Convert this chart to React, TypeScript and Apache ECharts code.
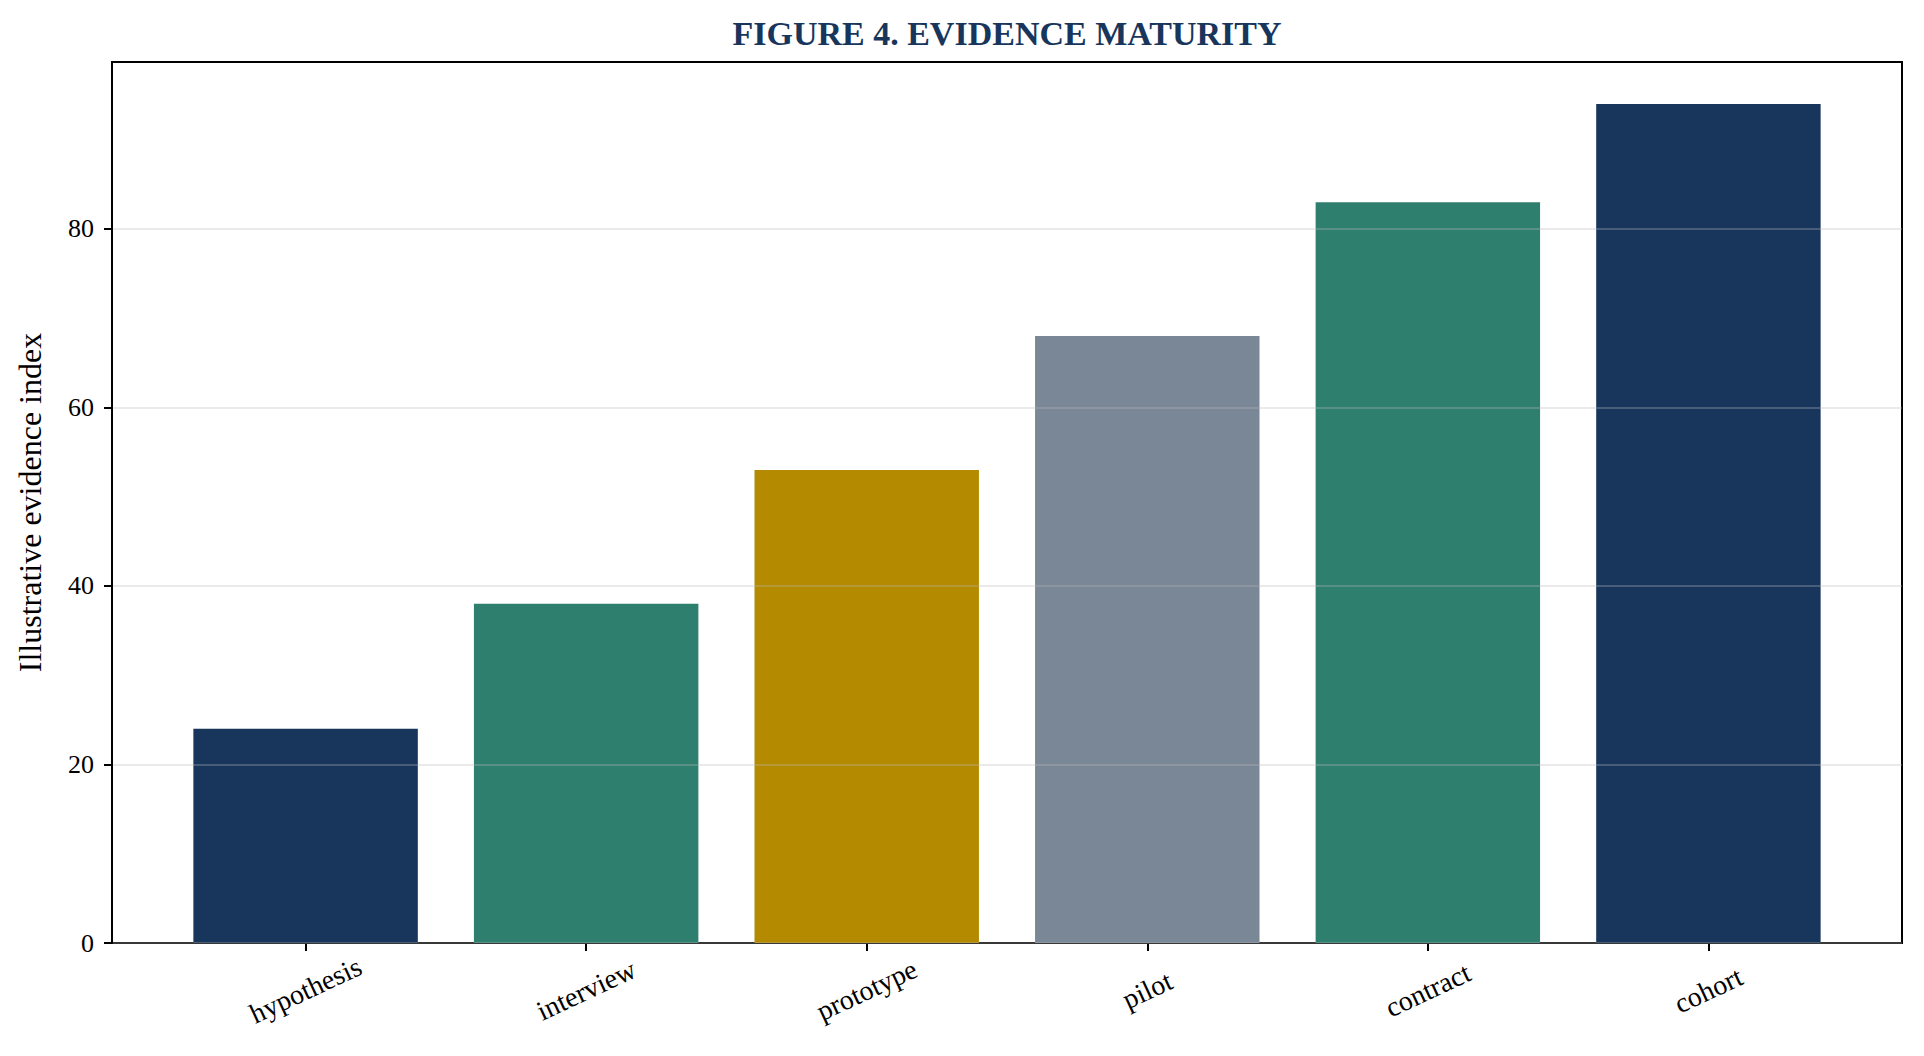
import { useRef, useEffect } from 'react'
import * as echarts from 'echarts'

const categories = ['hypothesis', 'interview', 'prototype', 'pilot', 'contract', 'cohort']
const values = [24, 38, 53, 68, 83, 94]
const barColors = ['#18365c', '#2f7f6f', '#b38a00', '#7a8796', '#2f7f6f', '#18365c']
const yTicks = [0, 20, 40, 60, 80]

const FONT = "'Liberation Serif', 'Times New Roman', serif"

export default function App() {
  const containerRef = useRef<HTMLDivElement>(null)

  useEffect(() => {
    const el = containerRef.current
    if (!el) return
    const chart = echarts.init(el, null, { renderer: 'svg' })

    const W = el.clientWidth
    const grid = { left: 112, top: 62, right: 22, bottom: 113 }
    const positions = categories.map((_, i) => i)
    // matplotlib-like margins: bars span -0.4..n-0.6, plus 5% each side
    const span = categories.length - 1 + 0.8
    const xMin = -0.4 - span * 0.05
    const xMax = categories.length - 1 + 0.4 + span * 0.05
    const yMax = Math.max(...values) * 1.05

    const option: echarts.EChartsOption = {
      animation: false,
      backgroundColor: '#ffffff',
      textStyle: { fontFamily: FONT },
      grid: {
        ...grid,
        show: true,
        borderColor: '#000000',
        borderWidth: 2,
        backgroundColor: 'transparent',
      },
      graphic: [
        {
          type: 'text',
          x: grid.left + (W - grid.left - grid.right) / 2,
          y: 33,
          style: {
            text: 'FIGURE 4. EVIDENCE MATURITY',
            fontFamily: FONT,
            fontWeight: 'bold',
            fontSize: 34,
            fill: '#18365c',
            textAlign: 'center',
            textVerticalAlign: 'middle',
          },
        },
      ],
      xAxis: {
        type: 'value',
        min: xMin,
        max: xMax,
        splitLine: { show: false },
        axisLine: { show: true, onZero: false, lineStyle: { color: '#000', width: 2 } },
        axisTick: {
          show: true,
          customValues: positions,
          length: 8,
          lineStyle: { color: '#000', width: 2 },
        },
        axisLabel: {
          customValues: positions,
          formatter: (v: number) => categories[Math.round(v)] ?? '',
          rotate: 25,
          align: 'center',
          verticalAlign: 'middle',
          margin: 47,
          fontFamily: FONT,
          fontSize: 28,
          color: '#000',
        },
      },
      yAxis: {
        type: 'value',
        min: 0,
        max: yMax,
        interval: 20,
        z: 3,
        name: 'Illustrative evidence index',
        nameLocation: 'middle',
        nameGap: 66,
        nameTextStyle: { fontFamily: FONT, fontSize: 32, color: '#000' },
        axisLine: { show: true, onZero: false, lineStyle: { color: '#000', width: 2 } },
        axisTick: {
          show: true,
          customValues: yTicks,
          length: 8,
          lineStyle: { color: '#000', width: 2 },
        },
        axisLabel: {
          customValues: yTicks,
          margin: 18,
          fontFamily: FONT,
          fontSize: 26,
          color: '#000',
        },
        splitLine: { show: true, lineStyle: { color: 'rgba(187,187,187,0.3)', width: 2 } },
      },
      series: [
        {
          type: 'bar',
          barWidth: '80%',
          data: values.map((v, i) => ({
            value: [i, v],
            itemStyle: { color: barColors[i] },
          })),
        },
      ],
    }

    chart.setOption(option)

    return () => {
      chart.dispose()
    }
  }, [])

  return (
    <div
      ref={containerRef}
      style={{ position: 'fixed', left: 0, top: 0, width: '100vw', height: '100vh', background: '#fff' }}
    />
  )
}
